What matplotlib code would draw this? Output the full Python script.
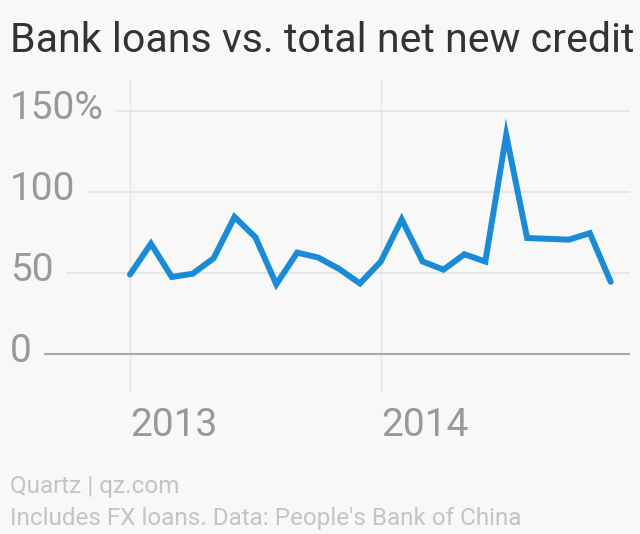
import matplotlib
matplotlib.use("Agg")
import matplotlib.pyplot as plt
import numpy as np

# Bank loans as a share of total net new credit, monthly Jan 2013 - Dec 2014
months = ["2013-01", "2013-02", "2013-03", "2013-04", "2013-05", "2013-06",
          "2013-07", "2013-08", "2013-09", "2013-10", "2013-11", "2013-12",
          "2014-01", "2014-02", "2014-03", "2014-04", "2014-05", "2014-06",
          "2014-07", "2014-08", "2014-09", "2014-10", "2014-11", "2014-12"]
share = [49, 68, 47.5, 49.5, 59, 84.5, 72, 43, 62.5, 59.5, 52.5, 43.5,
         57, 83, 57, 52, 61.5, 57, 135, 71.5, 71, 70.5, 74.5, 44.5]
year_ticks = [0, 12]
year_labels = ["2013", "2014"]
y_ticks = [0, 50, 100, 150]
y_labels = ["0", "50", "100", "150%"]

W, H = 640, 534
bg = "#f8f8f8"
grid_c = "#e6e6e6"
label_c = "#999999"

fig = plt.figure(figsize=(W / 100, H / 100), dpi=100, facecolor=bg)
plt.rcParams['font.family'] = ['Roboto', 'DejaVu Sans']

# axes span full width, from y=80px to y=392px
ax = fig.add_axes([0, 1 - 392 / H, 1, (392 - 80) / H])
ax.set_facecolor(bg)
for s in ax.spines.values():
    s.set_visible(False)
ax.set_xticks([])
ax.set_yticks([])

px_per_month = 20.9
x0 = 130
ax.set_xlim(-x0 / px_per_month, (W - x0) / px_per_month)
px_per_unit = 81.1 / 50
zero_y = 354
ax.set_ylim((zero_y - 392) / px_per_unit, (zero_y - 80) / px_per_unit)

x = np.arange(len(months))

# vertical year lines
for xt in year_ticks:
    ax.axvline(xt, color=grid_c, lw=1, zorder=1)

fig.canvas.draw()
renderer = fig.canvas.get_renderer()
pix_data = matplotlib.transforms.blended_transform_factory(
    matplotlib.transforms.IdentityTransform(), ax.transData)

# y labels, then gridlines starting just after each label
for val, lab in zip(y_ticks, y_labels):
    t = ax.text(10, val + 1.5, lab, transform=pix_data, fontsize=28,
                color=label_c, va='center', ha='left')
    bb = t.get_window_extent(renderer)
    start = ax.transData.inverted().transform((bb.x1 + 12, 0))[0]
    end = ax.transData.inverted().transform((630, 0))[0]
    if val == 0:
        ax.hlines(val, start, end, color="#aaaaaa", lw=1.5, zorder=2)
    else:
        ax.hlines(val, start, end, color=grid_c, lw=1.5, zorder=1)

ax.plot(x, share, color="#1a8bd6", lw=4.3, solid_joinstyle='miter',
        solid_capstyle='round', zorder=3)

# year labels
for xt, lab in zip(year_ticks, year_labels):
    fig.text((x0 + xt * px_per_month) / W, 1 - 426 / H, lab, fontsize=28,
             color=label_c, va='center', ha='left')

fig.text(10 / W, 1 - 40 / H, "Bank loans vs. total net new credit",
         fontsize=29.6, color="#333333", va='center', ha='left')
fig.text(10 / W, 1 - 487 / H, "Quartz | qz.com", fontsize=17.5,
         color="#c4c4c4", va='center', ha='left')
fig.text(10 / W, 1 - 519 / H, "Includes FX loans. Data: People's Bank of China",
         fontsize=17.5, color="#c4c4c4", va='center', ha='left')

fig.savefig("out.png", dpi=100, facecolor=bg)
